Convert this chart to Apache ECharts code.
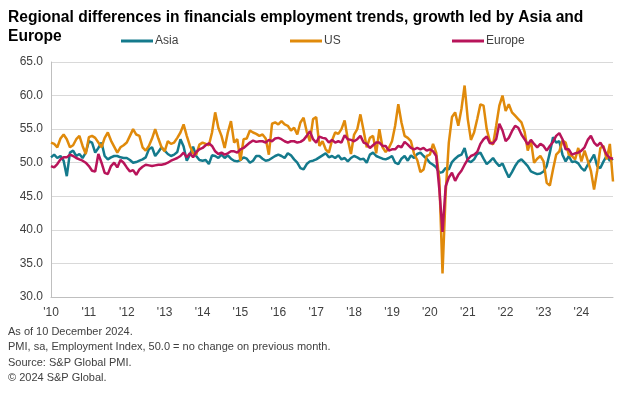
<!DOCTYPE html>
<html>
<head>
<meta charset="utf-8">
<script src="https://cdn.jsdelivr.net/npm/echarts@6/dist/echarts.min.js"></script>
<style>
  html, body { margin: 0; padding: 0; background: #fff; }
  #chart { width: 619px; height: 399px; }
</style>
</head>
<body>
<div id="chart"></div>
<script>
// monthly PMI employment index, Jan 2010 - Nov 2024
var yearLabels = ["'10", "'11", "'12", "'13", "'14", "'15", "'16", "'17", "'18", "'19", "'20", "'21", "'22", "'23", "'24"];

var asia = [
  50.8, 51.2, 50.7, 51.0, 50.3, 48.0, 51.5, 51.8, 51.0, 51.3, 50.7, 51.5,
  53.2, 53.0, 51.5, 52.2, 53.0, 51.0, 50.5, 50.8, 51.0, 51.0, 50.8, 50.7,
  50.7, 50.4, 50.0, 50.1, 50.3, 50.5, 50.8, 52.0, 52.3, 51.0, 51.6, 52.3,
  51.8, 51.3, 51.0, 51.2, 51.6, 53.5, 52.4, 50.3, 51.2, 52.4, 51.0, 50.4,
  50.3, 50.4, 49.8, 51.1, 51.0, 50.7, 51.2, 50.7, 51.1, 50.6, 50.3, 50.2,
  50.4, 50.8, 50.6, 50.0, 50.3, 51.0, 51.0, 50.6, 50.3, 50.4, 50.7, 51.0,
  51.2, 51.0, 50.7, 51.4, 51.1, 50.5, 50.0, 49.2, 49.0, 49.8, 50.2, 50.3,
  50.5, 50.8, 51.1, 51.4, 50.8, 51.0, 50.7, 51.1, 50.5, 50.7, 50.2, 50.7,
  51.0, 50.8, 50.5, 50.6, 50.0, 51.2, 51.5, 51.0, 50.8, 50.6, 50.5, 50.7,
  51.0, 50.0, 49.8, 50.6, 51.0, 50.3, 51.1, 50.7, 51.3, 51.5, 51.0, 50.6,
  50.0, 49.7, 49.3, 48.5, 48.6, 49.2, 49.0, 50.1, 50.6, 51.0, 51.2, 52.2,
  50.3, 50.1, 50.5, 51.3, 51.5, 50.6, 49.8, 50.2, 50.7, 50.0, 49.5, 49.9,
  48.8, 47.8, 48.6, 49.5, 50.2, 50.5, 50.0, 49.5, 48.7, 48.5, 48.3, 48.4,
  48.7, 49.5, 51.5, 53.8, 53.0, 53.2, 51.2, 50.2, 51.0, 50.1, 50.2, 49.9,
  49.2, 48.8, 49.7, 50.4, 51.2, 49.5, 49.2, 50.2, 51.0, 50.3, 50.6
];

var us = [
  53.0, 52.8, 52.3, 53.6, 54.2, 53.5, 52.3, 52.6, 53.5, 54.0, 52.5, 51.3,
  53.8, 54.0, 53.7, 53.0, 52.3, 53.7, 54.5, 53.3, 52.4, 51.5, 52.3, 52.6,
  53.0, 54.0, 55.0, 54.2, 54.0, 52.3, 51.8, 52.5, 53.6, 55.0, 53.6, 52.3,
  51.7, 53.2, 52.8, 53.0, 53.7, 54.5, 55.7, 54.0, 52.5, 51.4, 51.2, 52.7,
  53.0, 52.8, 52.6, 54.5, 57.5, 55.2, 54.0, 52.2, 54.5, 56.2, 53.0, 53.5,
  50.3, 53.5, 53.6, 54.8, 54.5, 54.3, 54.0, 54.2, 53.6, 51.2, 55.8, 56.0,
  55.7, 56.2, 55.7, 55.5, 54.8, 55.2, 54.2, 56.0, 56.7, 54.6, 53.2, 56.5,
  56.8, 52.5, 53.2, 52.0, 51.5, 53.3, 54.5, 54.3, 55.0, 56.3, 53.5, 51.3,
  54.2, 55.0, 57.2, 54.8, 52.3, 53.7, 54.0, 51.4, 55.0, 52.3, 51.6, 52.2,
  53.2, 55.5, 58.7, 56.0, 54.0, 53.7, 53.2, 51.3, 50.4, 48.6, 49.0, 51.0,
  51.2, 52.8, 51.5, 47.5, 33.5, 45.5, 53.0, 56.8, 57.5, 55.5, 58.0, 61.5,
  56.5, 53.4, 54.5, 56.5, 58.7, 58.5, 55.0, 53.2, 52.7, 55.5, 58.5, 60.0,
  57.7, 58.7, 57.5, 57.0, 56.5, 56.0, 54.6, 51.8, 53.3, 50.0, 50.6, 51.0,
  50.2, 47.0, 46.6, 49.0, 51.2, 51.7, 53.3, 53.0, 51.2, 51.0, 50.5, 52.2,
  50.2, 51.8, 50.3, 48.8, 46.0, 48.8, 52.2, 52.5, 50.5, 52.8, 47.2
];

var europe = [
  49.5, 49.3, 49.8, 50.5, 50.8, 50.8, 51.2, 51.0, 50.7, 50.5, 50.3, 50.0,
  49.5, 48.8, 48.7, 51.3, 50.0, 48.5, 48.3, 49.5, 50.0, 49.3, 50.4, 50.0,
  49.3, 48.7, 48.9, 48.2, 49.0, 49.4, 49.7, 49.6, 49.5, 49.6, 49.7, 49.7,
  49.8, 50.0, 50.3, 50.5, 50.7, 51.0, 51.5, 50.8, 51.4, 50.8, 51.6, 52.0,
  52.2, 52.6, 52.9, 52.5, 51.7, 51.3, 51.5, 51.2, 51.4, 51.7, 51.7, 51.5,
  52.0, 52.2, 52.6, 53.0, 53.3, 53.1, 53.2, 53.2, 53.0, 53.4, 53.2, 53.6,
  53.7, 53.5, 53.2, 53.0, 53.2, 53.2, 53.0, 53.1, 53.4, 54.0, 54.7, 53.5,
  53.0, 53.9, 53.7, 53.6, 53.0, 53.4, 53.0, 53.2, 53.0, 54.1, 53.5, 53.4,
  53.2, 53.5, 54.0, 53.0, 52.8, 52.2, 52.6, 53.0, 53.0, 52.5, 52.5, 51.8,
  52.0, 52.0, 52.5, 52.3, 53.1, 52.7, 52.2, 52.0, 52.2, 52.0, 52.2, 51.8,
  52.0, 51.7, 51.0, 46.0, 39.7, 46.5, 47.8, 48.5, 47.3, 48.2, 48.8, 49.7,
  50.5, 51.0, 51.2, 51.6, 52.8, 53.5, 53.9, 52.9, 52.9, 53.5, 55.8, 54.8,
  53.2, 53.7, 54.7, 55.5, 55.2, 54.2, 53.5, 52.7, 53.4, 52.8, 52.3, 52.8,
  52.5, 51.8, 52.5, 53.1, 54.0, 54.4, 53.5, 52.0, 52.0, 51.2, 51.4, 51.5,
  51.8, 52.3, 53.4, 54.0, 53.0, 52.5, 53.0, 52.2, 51.2, 50.7, 50.6
];

var months = [];
for (var i = 0; i < asia.length; i++) {
  months.push((2010 + Math.floor(i / 12)) + '-' + (i % 12 + 1));
}

var font = 'Liberation Sans, Arial, sans-serif';
var chart = echarts.init(document.getElementById('chart'));

function legendAt(name, left) {
  return {
    data: [name],
    left: left,
    top: 35,
    icon: 'rect',
    itemWidth: 32,
    itemHeight: 3,
    itemGap: 0,
    padding: 0,
    textStyle: { color: '#404040', fontSize: 12, fontFamily: font, padding: [0, 0, 0, -3] }
  };
}

chart.setOption({
  animation: false,
  color: ['#147a8c', '#e08a0b', '#b8145a'],
  title: [{
    text: 'Regional differences in financials employment trends, growth led by Asia and\nEurope',
    left: 8,
    top: 8,
    padding: 0,
    textStyle: { color: '#000', fontSize: 15.6, fontWeight: 'bold', fontFamily: font, lineHeight: 19 }
  }, {
    text: 'As of 10 December 2024.\nPMI, sa, Employment Index, 50.0 = no change on previous month.\nSource: S&P Global PMI.\n\u00a9 2024 S&P Global.',
    left: 8,
    top: 324,
    padding: 0,
    textStyle: { color: '#404040', fontSize: 11, fontWeight: 'normal', fontFamily: font, lineHeight: 15.5 }
  }],
  legend: [legendAt('Asia', 121), legendAt('US', 290), legendAt('Europe', 452)],
  grid: { left: 51, right: 6, top: 62, bottom: 102 },
  xAxis: {
    type: 'category',
    data: months,
    boundaryGap: false,
    axisLine: { lineStyle: { color: '#bfbfbf' } },
    axisTick: { show: false },
    axisLabel: {
      color: '#404040',
      fontSize: 12,
      fontFamily: font,
      margin: 10,
      interval: function (idx) { return idx % 12 === 0; },
      formatter: function (v, idx) { return yearLabels[Math.floor(idx / 12)]; }
    },
    splitLine: { show: false }
  },
  yAxis: {
    type: 'value',
    min: 30,
    max: 65,
    interval: 5,
    axisLine: { show: true, lineStyle: { color: '#bfbfbf' } },
    axisTick: { show: false },
    axisLabel: {
      color: '#404040',
      fontSize: 12,
      fontFamily: font,
      margin: 8,
      formatter: function (v) { return v.toFixed(1); }
    },
    splitLine: { lineStyle: { color: '#d9d9d9' } }
  },
  series: [
    { name: 'Asia', type: 'line', data: asia, showSymbol: false, lineStyle: { width: 2.5 } },
    { name: 'US', type: 'line', data: us, showSymbol: false, lineStyle: { width: 2.5 } },
    { name: 'Europe', type: 'line', data: europe, showSymbol: false, lineStyle: { width: 2.5 } }
  ]
});
</script>
</body>
</html>
